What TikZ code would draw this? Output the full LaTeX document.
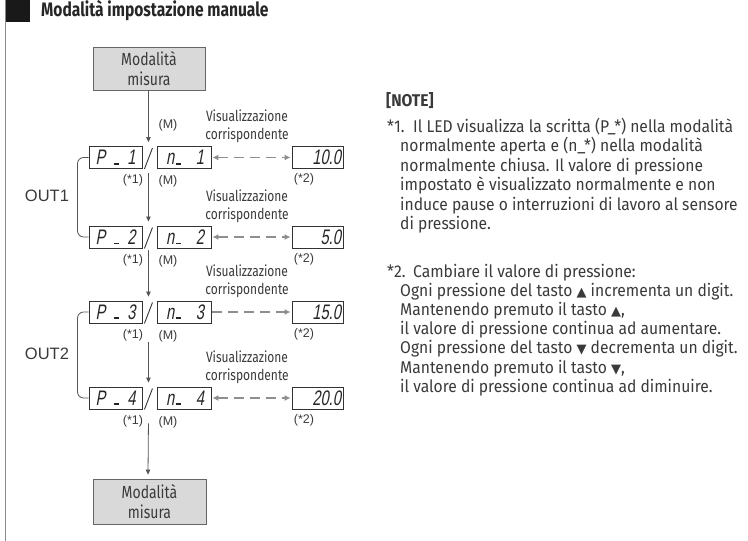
\documentclass[tikz,border=0pt]{standalone}
\usepackage{fontspec}
\setmainfont{Fira Sans}[FakeStretch=0.8]
\newfontfamily\notef{Fira Sans}[FakeStretch=0.92]
\newfontfamily\arialf{Liberation Sans}
\newfontfamily\symf{DejaVu Sans}
\newfontfamily\lcdf{Liberation Sans}[FakeSlant=0.18,FakeStretch=0.7]
\usetikzlibrary{arrows.meta,calc}
\definecolor{linegray}{HTML}{555555}
\definecolor{dashgray}{HTML}{8E8E8E}
\definecolor{boxfill}{HTML}{D9D9D9}
\definecolor{textgray}{HTML}{3A3A3A}
\definecolor{framegray}{HTML}{8A8A8A}
\newcommand\titlesz{\fontsize{19.5}{22}\selectfont\bfseries}
\newcommand\notesz{\notef\fontsize{17}{19}\selectfont}
\newcommand\vissz{\fontsize{15}{18}\selectfont}
\newcommand\modesz{\fontsize{17.5}{19.5}\selectfont}
\newcommand\lblsz{\arialf\fontsize{12.5}{14}\selectfont}
\newcommand\outsz{\arialf\fontsize{16.5}{18}\selectfont}
\newcommand\lcdsz{\lcdf\fontsize{21}{22}\selectfont}
\newcommand\lcdbar{\rule[0pt]{5pt}{1.8pt}}
\begin{document}
\begin{tikzpicture}[x=1pt,y=-1pt,
  modebox/.style={draw=black!60, line width=0.8pt, fill=boxfill, minimum width=112pt,
    minimum height=43pt, inner sep=0pt, align=center, font=\modesz, text=textgray},
  lcdbox/.style={draw=black!80, line width=0.9pt, minimum height=22pt, inner sep=0pt,
    font=\lcdsz, text=black!85},
  lbl/.style={font=\lblsz, text=textgray, inner sep=0pt},
  vis/.style={font=\vissz, text=textgray, align=center, inner sep=0pt},
  notetxt/.style={font=\notesz, text=textgray, inner sep=0pt, anchor=base west},
  varrow/.style={draw=linegray, line width=0.8pt, -{Triangle[length=5pt,width=4.5pt]}},
  dasharrow/.style={draw=dashgray, line width=1.8pt, dash pattern=on 10pt off 6pt},
  dbl/.style={{Latex[length=6pt,width=6pt]}-{Latex[length=6pt,width=6pt]}},
  sgl/.style={-{Latex[length=6pt,width=6pt]}},
  brace/.style={draw=linegray, line width=0.8pt, rounded corners=6pt}
]
\useasboundingbox (0,0) rectangle (748,541);
% frame line and title
\draw[framegray, line width=1.5pt] (5.5,0) -- (5.5,541);
\fill[black!90] (6,0) rectangle (30,22);
\node[font=\titlesz, text=black!85, anchor=base west, inner sep=0pt] (title) at (41,16) {Modalità impostazione manuale};

% mode boxes
\node[modebox] (top) at (149,68.5) {Modalità\\misura};
\node[modebox, minimum width=113pt, minimum height=45pt] (bot) at (149.5,501.5) {Modalità\\misura};

% rows
\foreach \i/\yc/\val/\tip in {1/157.5/10.0/dbl, 2/237/5.0/dbl, 3/312/15.0/sgl, 4/398/20.0/dbl}{
  \node[lcdbox, minimum width=53pt] (p\i) at (115.5,\yc) {\makebox[40pt][s]{P\hfill\lcdbar\hfill\hspace{0pt}\i}};
  \node[lcdbox, minimum width=54pt] (n\i) at (184,\yc) {\makebox[40pt][s]{\hspace{2pt}n\hspace{1.5pt}\lcdbar\hfill\i}};
  \node[lcdbox, minimum width=51pt] (v\i) at (317.5,\yc) {\makebox[47pt][r]{\val}};
  \draw[black!80, line width=0.9pt] ($(p\i.south east)+(2,0)$) -- ($(p\i.north east)+(10,2)$);
  \draw[dasharrow,\tip] ($(n\i.east)+(1,0)$) -- ($(v\i.west)+(-1,0)$);
  \node[vis] (vz\i) at (247,\yc-31) {Visualizzazione\\corrispondente};
  \node[lbl] (a\i) at (133,\yc+23) {(*1)};
  \node[lbl] (m\i) at (168,\yc+24) {(M)};
  \node[lbl] (b\i) at (304,\yc+22) {(*2)};
}
\node[lbl] (m0) at (168,125) {(M)};

% vertical arrows
\coordinate (t1) at ($(p1.north east)+(6,-4)$);
\coordinate (t2) at ($(p2.north east)+(6,-4)$);
\coordinate (t3) at ($(p3.north east)+(6,-4)$);
\coordinate (t4) at ($(p4.north east)+(6,-4)$);
\coordinate (t5) at ($(bot.north)+(-1.5,-4)$);
\draw[varrow] (top.south -| t1) -- (t1);
\draw[varrow] ($(p1.south east)+(6,4)$) -- (t2);
\draw[varrow] ($(p2.south east)+(6,2)$) -- (t3);
\draw[varrow] ($(p3.south east)+(6,19)$) -- (t4);
\draw[varrow] ($(p4.south east)+(6,14)$) -- (t5);

% brackets
\draw[brace] (p1.west) -- ++(-11,0) |- (p2.west);
\draw[brace] (p3.west) -- ++(-11,0) |- (p4.west);
\node[font=\outsz, text=textgray, inner sep=0pt] (out1) at (47,196) {OUT1};
\node[font=\outsz, text=textgray, inner sep=0pt] (out2) at (47,354) {OUT2};

% notes
\node[font=\notesz\bfseries, text=textgray, inner sep=0pt, anchor=base west] (note) at (386,106) {[NOTE]};
\node[notetxt] (k1) at (387,132) {*1.};
\node[notetxt] (h1) at (413,132) {Il LED visualizza la scritta (P\_*) nella modalità};
\foreach \t [count=\k] in {{normalmente aperta e (n\_*) nella modalità},
  {normalmente chiusa. Il valore di pressione},
  {impostato è visualizzato normalmente e non},
  {induce pause o interruzioni di lavoro al sensore},
  {di pressione.}}{
  \node[notetxt] (ka\k) at (400,{132+19.5*\k}) {\t};
}
\node[notetxt] (k2) at (387,277) {*2.};
\node[notetxt] (h2) at (413,277) {Cambiare il valore di pressione:};
\foreach \t [count=\k] in {{Ogni pressione del tasto {\symf\fontsize{13}{13}\selectfont ▲} incrementa un digit.},
  {Mantenendo premuto il tasto {\symf\fontsize{13}{13}\selectfont ▲},},
  {il valore di pressione continua ad aumentare.},
  {Ogni pressione del tasto {\symf\fontsize{13}{13}\selectfont ▼} decrementa un digit.},
  {Mantenendo premuto il tasto {\symf\fontsize{13}{13}\selectfont ▼},},
  {il valore di pressione continua ad diminuire.}}{
  \node[notetxt] (kb\k) at (400,{277+19.2*\k}) {\t};
}
\end{tikzpicture}
\end{document}
